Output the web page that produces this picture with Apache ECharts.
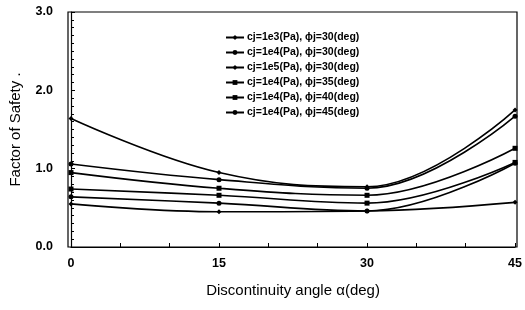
<!DOCTYPE html>
<html>
<head>
<meta charset="utf-8">
<script src="https://cdn.jsdelivr.net/npm/echarts@6/dist/echarts.min.js"></script>
<style>
    html, body { margin: 0; padding: 0; background: #fff; }
    #chart { width: 525px; height: 310px; }
</style>
</head>
<body>
<div id="chart"></div>
<script>
// discontinuity angle (deg)
var angles = [0, 15, 30, 45]

var seriesNames = [
    'cj=1e3(Pa), ϕj=30(deg)',
    'cj=1e4(Pa), ϕj=30(deg)',
    'cj=1e5(Pa), ϕj=30(deg)',
    'cj=1e4(Pa), ϕj=35(deg)',
    'cj=1e4(Pa), ϕj=40(deg)',
    'cj=1e4(Pa), ϕj=45(deg)'
]

// factor of safety
var fsC1e3Phi30 = [0.55, 0.45, 0.46, 0.57]
var fsC1e4Phi30 = [0.64, 0.56, 0.46, 1.07]
var fsC1e5Phi30 = [1.64, 0.95, 0.77, 1.75]
var fsC1e4Phi35 = [0.74, 0.66, 0.56, 1.08]
var fsC1e4Phi40 = [0.95, 0.75, 0.66, 1.26]
var fsC1e4Phi45 = [1.06, 0.86, 0.75, 1.67]

var symbols = ['diamond', 'circle', 'diamond', 'rect', 'rect', 'circle']
var allValues = [fsC1e3Phi30, fsC1e4Phi30, fsC1e5Phi30, fsC1e4Phi35, fsC1e4Phi40, fsC1e4Phi45]

var chart = echarts.init(document.getElementById('chart'))

var series = seriesNames.map(function (name, i) {
    return {
        name: name,
        type: 'line',
        smooth: 0.4,
        symbol: symbols[i],
        symbolSize: 5,
        data: angles.map(function (a, j) { return [a, allValues[i][j]] }),
        itemStyle: { color: '#000' },
        lineStyle: { color: '#000', width: 1.6 }
    }
})

chart.setOption({
    animation: false,
    textStyle: { fontFamily: 'Liberation Sans' },
    grid: { left: 68, right: 8, top: 12, bottom: 63 },
    legend: {
        orient: 'vertical',
        left: 220,
        top: 27,
        itemGap: 4,
        itemWidth: 18,
        itemHeight: 6,
        data: seriesNames,
        textStyle: { fontSize: 10.5, fontWeight: 'bold', color: '#000', padding: [0, 0, 0, -2], lineHeight: 11 }
    },
    xAxis: {
        type: 'value',
        min: 0,
        max: 45,
        interval: 15,
        name: 'Discontinuity angle α(deg)',
        nameLocation: 'middle',
        nameGap: 36,
        nameTextStyle: { fontSize: 15, color: '#000' },
        axisLine: { lineStyle: { color: '#000', width: 1.2 } },
        axisTick: { inside: true, length: 4, lineStyle: { color: '#000' } },
        minorTick: { show: true, splitNumber: 3, length: 4, lineStyle: { color: '#000' } },
        axisLabel: { fontSize: 12.5, fontWeight: 'bold', color: '#000', margin: 10 },
        splitLine: { show: false }
    },
    yAxis: {
        type: 'value',
        min: 0,
        max: 3,
        interval: 1,
        name: 'Factor of Safety .',
        nameLocation: 'middle',
        nameGap: 48,
        nameTextStyle: { fontSize: 15, color: '#000' },
        axisLine: { show: true, lineStyle: { color: '#000', width: 1.2 } },
        axisTick: { inside: true, length: 4, lineStyle: { color: '#000' } },
        minorTick: { show: true, splitNumber: 10, length: 3, lineStyle: { color: '#000' } },
        axisLabel: {
            fontSize: 12.5,
            fontWeight: 'bold',
            color: '#000',
            margin: 18,
            formatter: function (v) { return v.toFixed(1) }
        },
        splitLine: { show: false }
    },
    graphic: [{
        type: 'rect',
        shape: { x: 68, y: 12, width: 449, height: 235 },
        style: { fill: 'none', stroke: '#000', lineWidth: 1.2 },
        silent: true
    }],
    series: series
})
</script>
</body>
</html>
